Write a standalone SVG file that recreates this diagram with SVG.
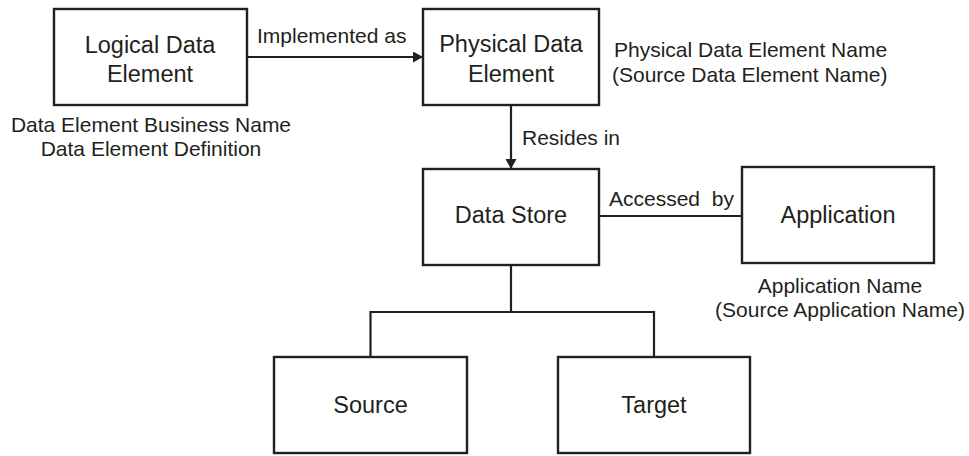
<svg xmlns="http://www.w3.org/2000/svg" width="969" height="456" viewBox="0 0 969 456">
<style>
.box{fill:#fff;stroke:#231f20;stroke-width:2.4}
.ln{fill:none;stroke:#231f20;stroke-width:2.2}
.lbl{font-family:"Liberation Sans",Arial,sans-serif;font-size:23.5px;fill:#231f20;text-anchor:middle}
.ann{font-family:"Liberation Sans",Arial,sans-serif;font-size:21px;fill:#231f20}
.mid{text-anchor:middle}
</style>
<defs>
<marker id="arr" markerUnits="userSpaceOnUse" markerWidth="12" markerHeight="12" refX="10" refY="5.5" orient="auto">
<path d="M0,0 L10,5.5 L0,11 z" fill="#231f20"/>
</marker>
</defs>
<rect width="969" height="456" fill="#fff"/>
<g id="connectors">
<line class="ln" x1="247" y1="57" x2="423" y2="57" marker-end="url(#arr)"/>
<line class="ln" x1="511" y1="105" x2="511" y2="169" marker-end="url(#arr)"/>
<line class="ln" x1="599" y1="216" x2="742" y2="216"/>
<polyline class="ln" points="511,265 511,312"/>
<polyline class="ln" points="370.5,357 370.5,312 654,312 654,357"/>
<text class="ann" x="257" y="43">Implemented as</text>
<text class="ann" x="522" y="145">Resides in</text>
<text class="ann" x="609" y="206" xml:space="preserve">Accessed  by</text>
</g>
<g id="logical">
<rect class="box" x="54" y="9" width="193" height="96"/>
<text class="lbl" x="150" y="53">Logical Data</text>
<text class="lbl" x="150" y="82">Element</text>
<text class="ann mid" x="151" y="132">Data Element Business Name</text>
<text class="ann mid" x="151" y="156">Data Element Definition</text>
</g>
<g id="physical">
<rect class="box" x="423" y="9" width="176" height="96"/>
<text class="lbl" x="511" y="52">Physical Data</text>
<text class="lbl" x="511" y="82">Element</text>
<text class="ann" x="614" y="57">Physical Data Element Name</text>
<text class="ann" x="612" y="82">(Source Data Element Name)</text>
</g>
<g id="datastore">
<rect class="box" x="423" y="169" width="176" height="96"/>
<text class="lbl" x="511" y="223">Data Store</text>
</g>
<g id="application">
<rect class="box" x="742" y="167" width="192" height="96"/>
<text class="lbl" x="838" y="223">Application</text>
<text class="ann mid" x="840" y="293">Application Name</text>
<text class="ann mid" x="840" y="317">(Source Application Name)</text>
</g>
<g id="source">
<rect class="box" x="274" y="357" width="193" height="96"/>
<text class="lbl" x="370.5" y="413">Source</text>
</g>
<g id="target">
<rect class="box" x="558" y="357" width="192" height="96"/>
<text class="lbl" x="654" y="413">Target</text>
</g>
</svg>
